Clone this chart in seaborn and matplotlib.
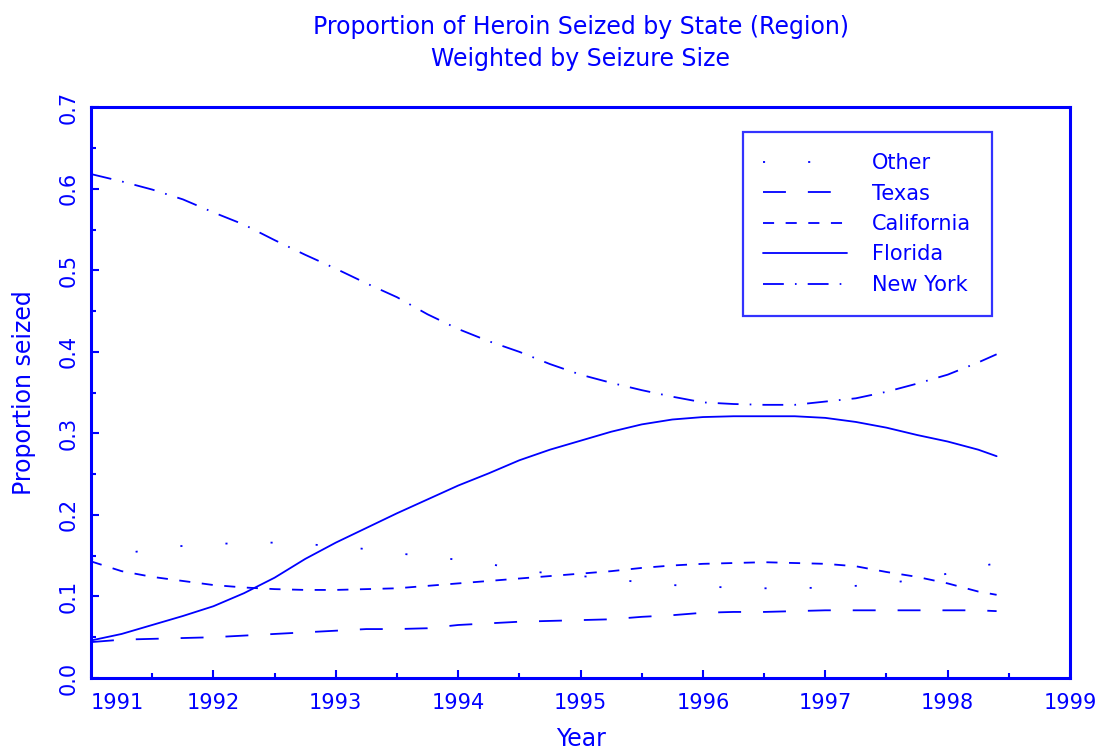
import matplotlib
matplotlib.use("Agg")
import matplotlib.pyplot as plt
import numpy as np
import pandas as pd
import seaborn as sns

# values, every quarter year
years = [1991.0, 1991.25, 1991.5, 1991.75, 1992.0, 1992.25, 1992.5, 1992.75,
         1993.0, 1993.25, 1993.5, 1993.75, 1994.0, 1994.25, 1994.5, 1994.75,
         1995.0, 1995.25, 1995.5, 1995.75, 1996.0, 1996.25, 1996.5, 1996.75,
         1997.0, 1997.25, 1997.5, 1997.75, 1998.0, 1998.25, 1998.4]
other = [0.146, 0.152, 0.158, 0.162, 0.164, 0.166, 0.166, 0.164,
         0.162, 0.158, 0.153, 0.149, 0.145, 0.140, 0.133, 0.128,
         0.125, 0.122, 0.117, 0.114, 0.112, 0.111, 0.110, 0.110,
         0.111, 0.113, 0.116, 0.121, 0.128, 0.136, 0.141]
texas = [0.044, 0.047, 0.048, 0.049, 0.050, 0.052, 0.054, 0.056,
         0.058, 0.060, 0.060, 0.061, 0.065, 0.067, 0.069, 0.070,
         0.071, 0.072, 0.075, 0.077, 0.080, 0.081, 0.081, 0.082,
         0.083, 0.083, 0.083, 0.083, 0.083, 0.083, 0.082]
california = [0.143, 0.131, 0.124, 0.119, 0.114, 0.111, 0.109, 0.108,
              0.108, 0.109, 0.110, 0.113, 0.116, 0.119, 0.122, 0.125,
              0.128, 0.131, 0.135, 0.138, 0.140, 0.141, 0.142, 0.141,
              0.140, 0.137, 0.130, 0.124, 0.116, 0.106, 0.102]
florida = [0.046, 0.054, 0.065, 0.076, 0.088, 0.104, 0.123, 0.146,
           0.166, 0.184, 0.202, 0.219, 0.236, 0.251, 0.267, 0.280,
           0.291, 0.302, 0.311, 0.317, 0.320, 0.321, 0.321, 0.321,
           0.319, 0.314, 0.307, 0.298, 0.290, 0.280, 0.272]
new_york = [0.618, 0.609, 0.599, 0.587, 0.571, 0.556, 0.537, 0.519,
            0.502, 0.484, 0.467, 0.446, 0.428, 0.413, 0.400, 0.385,
            0.372, 0.362, 0.353, 0.345, 0.338, 0.336, 0.335, 0.335,
            0.339, 0.343, 0.351, 0.361, 0.372, 0.387, 0.397]

regions = ["Other", "Texas", "California", "Florida", "New York"]
series = [other, texas, california, florida, new_york]
x_ticks = [1991, 1992, 1993, 1994, 1995, 1996, 1997, 1998, 1999]
y_ticks = [0.0, 0.1, 0.2, 0.3, 0.4, 0.5, 0.6, 0.7]

BLUE = "#0000FF"

sns.set_theme(style="white")
plt.rcParams["font.family"] = ["DejaVu Sans"]
plt.rcParams["lines.scale_dashes"] = False
plt.rcParams["text.color"] = BLUE
plt.rcParams["axes.labelcolor"] = BLUE

df = pd.DataFrame({
    "Year": np.tile(years, len(regions)),
    "Proportion": np.concatenate(series),
    "Region": np.repeat(regions, len(years)),
})

dashes = {
    "Other": (1.5, 31),
    "Texas": (16.5, 15.8),
    "California": (8, 8.3),
    "Florida": "",
    "New York": (15, 8, 1.2, 8),
}
palette = {r: BLUE for r in regions}

fig = plt.figure(figsize=(11.02, 7.55), dpi=100)
ax = fig.add_axes([0.0826, 0.102, 0.8884, 0.756])

sns.lineplot(data=df, x="Year", y="Proportion", hue="Region", style="Region",
             hue_order=regions, style_order=regions, palette=palette,
             dashes=dashes, linewidth=1.3, ax=ax)

ax.set_xlim(1991, 1999)
ax.set_ylim(0, 0.7)
ax.set_xticks(x_ticks)
ax.set_xticklabels([str(t) for t in x_ticks])
ax.set_xticks(np.arange(1991.5, 1999, 1.0), minor=True)
ax.set_yticks(y_ticks)
ax.set_yticklabels([f"{t:.1f}" for t in y_ticks], rotation=90, va="center")
ax.set_yticks(np.arange(0.05, 0.7, 0.1), minor=True)
ax.tick_params(axis="both", which="major", direction="in", length=6, width=1.5,
               colors=BLUE, labelsize=15, bottom=True, left=True)
ax.tick_params(axis="both", which="minor", direction="in", length=3.5, width=1.5,
               colors=BLUE, bottom=True, left=True)
ax.tick_params(axis="x", pad=11)
ax.tick_params(axis="y", pad=9)
ax.get_xticklabels()[0].set_horizontalalignment("left")

for side in ["left", "bottom", "top", "right"]:
    ax.spines[side].set_visible(True)
    ax.spines[side].set_color(BLUE)
    ax.spines[side].set_linewidth(2.2)

ax.set_xlabel("Year", fontsize=17, labelpad=10)
ax.set_ylabel("Proportion seized", fontsize=17, labelpad=16)
ax.set_title("Proportion of Heroin Seized by State (Region)\nWeighted by Seizure Size",
             fontsize=17, color=BLUE, pad=30, linespacing=1.4)

handles, labels = ax.get_legend_handles_labels()
leg = ax.legend(handles, labels, loc="upper right", bbox_to_anchor=(0.92, 0.956),
                fontsize=15, frameon=True, fancybox=False, handlelength=4.0,
                handletextpad=1.2, labelspacing=0.5, borderpad=1.0,
                borderaxespad=0)
leg.get_frame().set_edgecolor(BLUE)
leg.get_frame().set_linewidth(1.6)
for t in leg.get_texts():
    t.set_color(BLUE)

fig.savefig("out.png", dpi=100)
